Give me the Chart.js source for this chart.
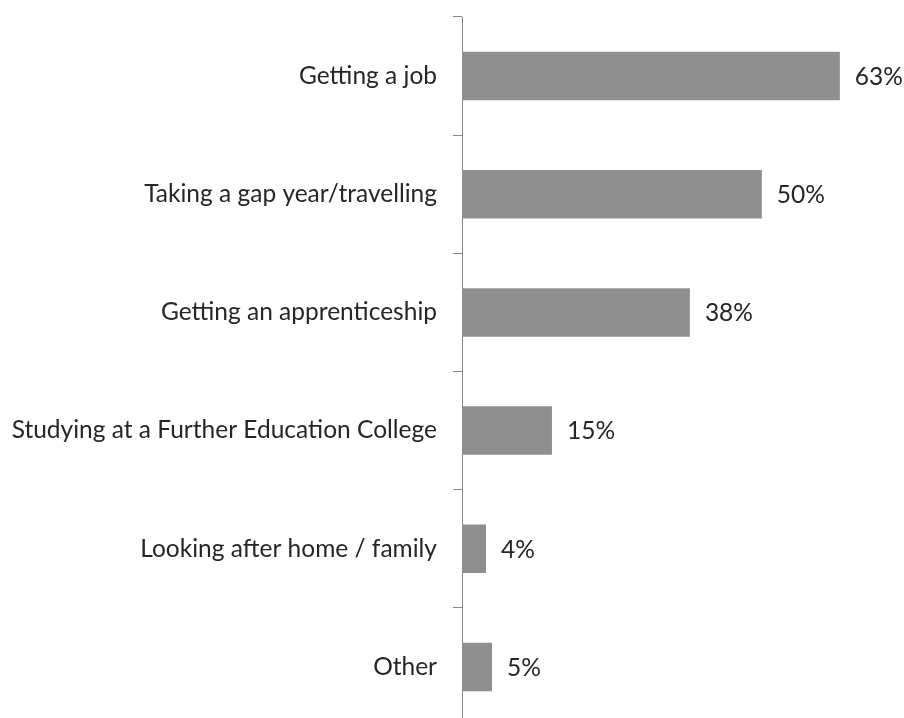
<!DOCTYPE html>
<html>
<head>
<meta charset="utf-8">
<script src="https://cdn.jsdelivr.net/npm/chart.js@4"></script>
<style>
  html, body { margin: 0; padding: 0; background: #fff; overflow: hidden; }
  canvas { display: block; }
</style>
</head>
<body>
<canvas id="myChart" width="904" height="726"></canvas>
<script>
// Chart data
var categories = [
    'Getting a job',
    'Taking a gap year/travelling',
    'Getting an apprenticeship',
    'Studying at a Further Education College',
    'Looking after home / family',
    'Other'
];
var percentValues = [63, 50, 38, 15, 4, 5];

var labelFont = { family: 'Lato', size: 24.5 };
var textColor = '#262626';

//Draw the % text after each bar
const valueLabels = {
    id: 'valueLabels',
    afterDatasetsDraw(chart) {
        const ctx = chart.ctx;
        const meta = chart.getDatasetMeta(0);
        ctx.save();
        ctx.font = labelFont.size + 'px ' + labelFont.family;
        ctx.fillStyle = textColor;
        ctx.textAlign = 'left';
        ctx.textBaseline = 'middle';
        meta.data.forEach(function (bar, i) {
            ctx.fillText(percentValues[i] + '%', bar.x + 15, bar.y + 1);
        });
        ctx.restore();
    }
};

const ctx = document.getElementById('myChart');
const myChart = new Chart(ctx, {
    type: 'bar',
    data: {
        labels: categories,
        datasets: [{
            data: percentValues,
            backgroundColor: '#8f8f8f',
            borderWidth: 0,
            categoryPercentage: 1,
            barPercentage: 0.41
        }]
    },
    plugins: [valueLabels],
    options: {
        indexAxis: 'y',
        responsive: false,
        animation: false,
        layout: { padding: { top: 17, right: 0, bottom: 0, left: 0 } },
        plugins: {
            legend: { display: false },
            tooltip: { enabled: false }
        },
        scales: {
            x: {
                display: false,
                min: 0,
                max: 73.7
            },
            y: {
                afterFit(scale) {
                    scale.width = 462;
                    scale.paddingTop = 0;
                    scale.paddingBottom = 0;
                },
                border: { display: true, color: '#868686', width: 1 },
                grid: {
                    offset: true,
                    drawOnChartArea: false,
                    drawTicks: true,
                    tickLength: 9,
                    color: '#868686'
                },
                ticks: {
                    color: textColor,
                    font: labelFont,
                    padding: 16
                }
            }
        }
    }
});
</script>
</body>
</html>
